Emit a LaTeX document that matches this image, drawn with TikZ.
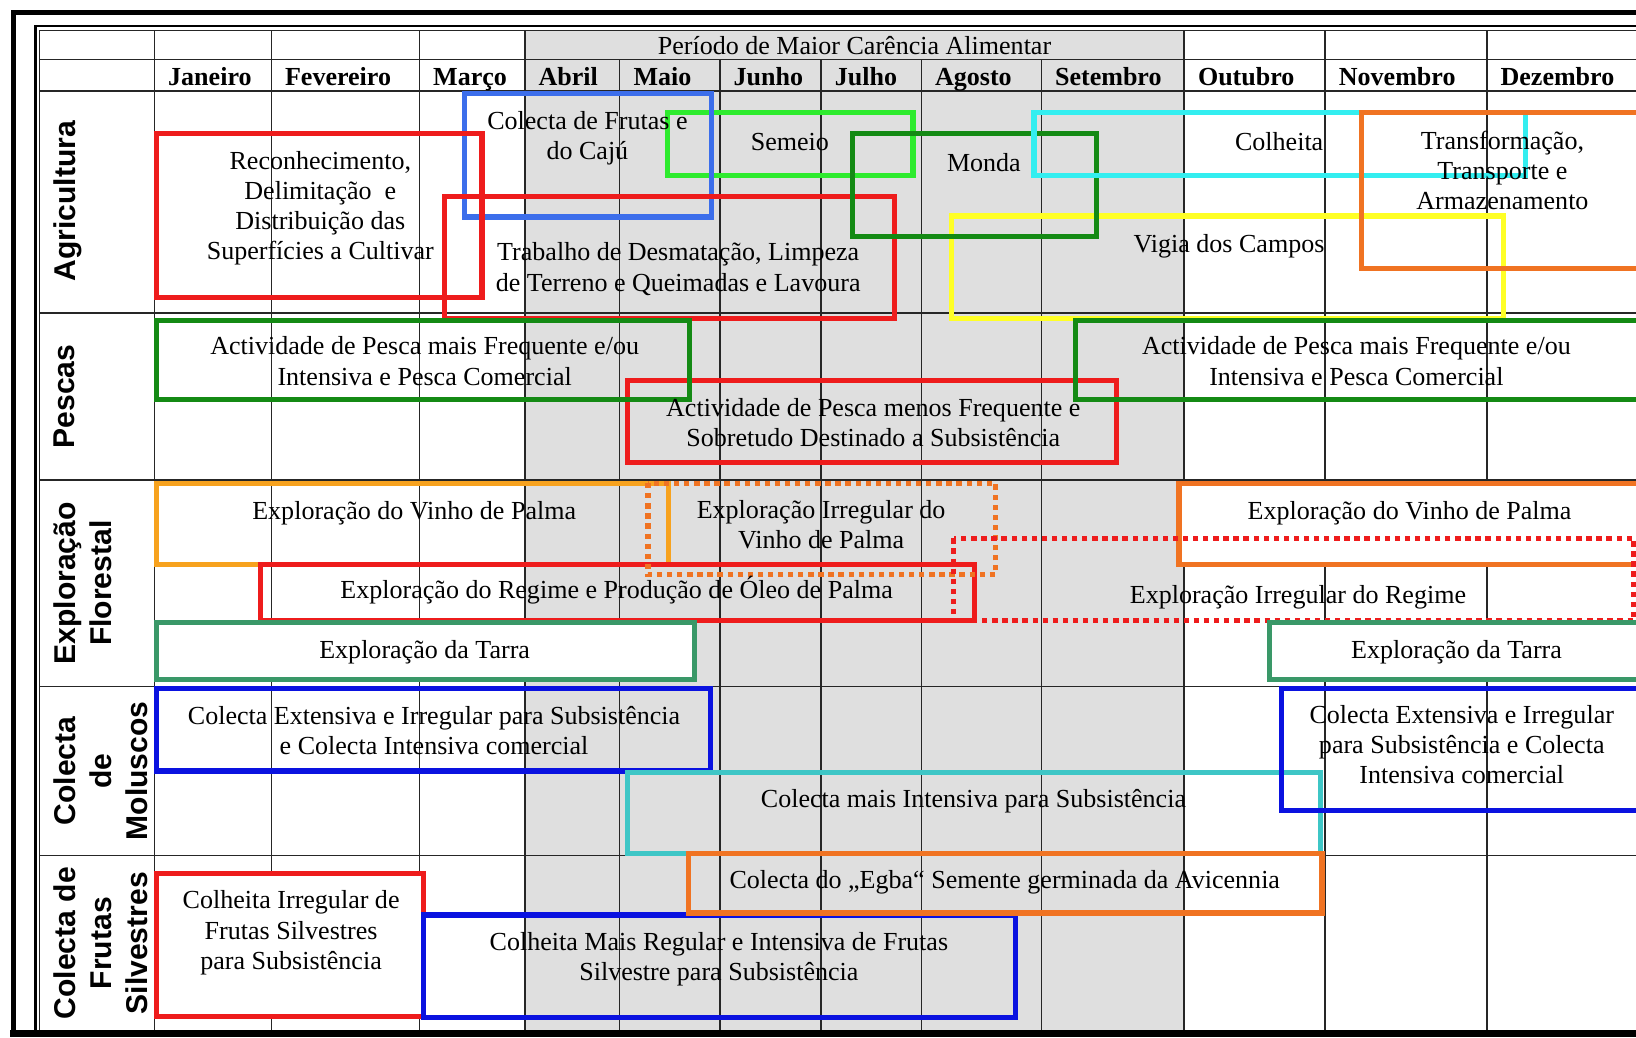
\documentclass[tikz,border=0pt]{standalone}
\usepackage{fontspec}
\setmainfont{Liberation Serif}
\setsansfont{Liberation Sans}

\definecolor{actred}{HTML}{EE1C1C}
\definecolor{cajublue}{HTML}{3C6EEB}
\definecolor{lime}{HTML}{2EEB2E}
\definecolor{dkgreen}{HTML}{148A14}
\definecolor{aqua}{HTML}{33EEF0}
\definecolor{actorange}{HTML}{F07322}
\definecolor{actyellow}{HTML}{FFFF26}
\definecolor{amber}{HTML}{F7A21E}
\definecolor{tarra}{HTML}{3A9868}
\definecolor{molblue}{HTML}{0A12E0}
\definecolor{turq}{HTML}{3EC6C6}
\definecolor{dryseason}{HTML}{DFDFDF}

\begin{document}
\begin{tikzpicture}[x=0.1mm,y=-0.1mm,
    grid/.style={line width=0.4pt,black!85},
    act/.style={line width=1.4pt},
    dots/.style={line width=1.4pt,dash pattern=on 1.45pt off 1.3pt},
    txt/.style={anchor=base,align=center,inner sep=0pt,yshift=-0.2mm,font=\fontsize{7.1}{8.25}\selectfont},
    month/.style={anchor=base west,inner sep=0pt,yshift=-0.2mm,font=\fontsize{7.1}{8.25}\selectfont\bfseries},
    sector/.style={rotate=90,anchor=north,align=center,inner sep=0pt,
        font=\fontsize{8.2}{9.8}\selectfont\sffamily\bfseries}]
\useasboundingbox (0,0) rectangle (1568,994);
\clip (0,0) rectangle (1568,994);

% table
\fill[dryseason] (503,29) rectangle (1135,988);
\foreach \y in {57,87,300,460,658,820}
    \draw[grid] (38,\y) -- (1568,\y);
\foreach \x in {148,260,402,503,1135,1270,1425}
    \draw[grid] (\x,29) -- (\x,988);
\foreach \x in {594,690,787,883,998}
    \draw[grid] (\x,57) -- (\x,988);
\draw[line width=0.6pt] (34,988) -- (34,25) -- (1568,25);
\draw[grid] (38,988) -- (38,29) -- (1568,29);
\draw[line width=1.15pt] (13,994) -- (13,12) -- (1568,12);
\fill (10,987) rectangle (1568,994);

\node (periodo) [txt] at (819,50) {Período de Maior Carência Alimentar};
\foreach \m/\x in {Janeiro/148,Fevereiro/260,Março/402,Abril/503,Maio/594,Junho/690,
        Julho/787,Agosto/883,Setembro/998,Outubro/1135,Novembro/1270,Dezembro/1425}
    \node (m\x) [month] at (\x+12.5,80) {\m};

\node (agri) [sector] at (51,193) {Agricultura};
\node (pesc) [sector] at (51,380) {Pescas};
\node (expl) [sector] at (51,559) {Exploração\\Florestal};
\node (molu) [sector] at (51,739) {Colecta\\de\\Moluscos};
\node (frut) [sector] at (51,904) {Colecta de\\Frutas\\Silvestres};

% agricultura
\draw[act,lime] (640,108) rectangle (875,168);
\draw[act,cajublue] (445,90) rectangle (682,208);
\draw[act,actred] (150,128) rectangle (462,285);
\draw[act,actred] (426,188) rectangle (857,305);
\draw[act,actyellow] (912,207) rectangle (1441,305);
\draw[act,dkgreen] (817,128) rectangle (1051,227);
\draw[act,aqua] (991,108) rectangle (1462,168);
\draw[act,actorange] (1305,108) rectangle (1600,257);

% pescas
\draw[act,actred] (601,365) rectangle (1070,443);
\draw[act,dkgreen] (150,307) rectangle (661,383);
\draw[act,dkgreen] (1031,307) rectangle (1600,383);

% exploracao florestal
\draw[act,amber] (150,463) rectangle (641,541);
\draw[act,actred] (250,541) rectangle (934,595);
\draw[dots,actorange] (621,463) rectangle (954,551);
\draw[act,actorange,fill=white] (1130,463) rectangle (1600,541);
\draw[dots,actred] (914,516) rectangle (1566,595);
\draw[act,tarra,fill=white] (150,597) rectangle (666,651);
\draw[act,tarra,fill=white] (1217,597) rectangle (1600,651);

% moluscos
\draw[act,molblue] (150,660) rectangle (681,739);
\draw[act,turq] (601,740) rectangle (1266,818);
\draw[act,molblue] (1228,660) rectangle (1600,777);

% frutas silvestres
\draw[act,actred,fill=white] (150,837) rectangle (406,974);
\draw[act,molblue] (406,877) rectangle (973,975);
\draw[act,actorange] (660,818) rectangle (1267,875);

% labels (base = last line)
\node (recon) [txt] at (307,247) {Reconhecimento,\\Delimitação\ \ e\\Distribuição das\\Superfícies a Cultivar};
\node (caju) [txt] at (563,151) {Colecta de Frutas e\\do Cajú};
\node (semeio) [txt] at (757,142) {Semeio};
\node (monda) [txt] at (943,162) {Monda};
\node (desmat) [txt] at (650,277) {Trabalho de Desmatação, Limpeza\\de Terreno e Queimadas e Lavoura};
\node (colh) [txt] at (1226,142) {Colheita};
\node (transf) [txt] at (1440,199) {Transformação,\\Transporte e\\Armazenamento};
\node (vigia) [txt] at (1178,240) {Vigia dos Campos};

\node (pescaA) [txt] at (407,367) {Actividade de Pesca mais Frequente e/ou\\Intensiva e Pesca Comercial};
\node (pescaB) [txt] at (837,426) {Actividade de Pesca menos Frequente e\\Sobretudo Destinado a Subsistência};
\node (pescaC) [txt] at (1300,367) {Actividade de Pesca mais Frequente e/ou\\Intensiva e Pesca Comercial};

\node (vinhoA) [txt] at (397,496) {Exploração do Vinho de Palma};
\node (vinhoB) [txt] at (787,524) {Exploração Irregular do\\Vinho de Palma};
\node (vinhoC) [txt] at (1351,496) {Exploração do Vinho de Palma};
\node (regA) [txt] at (591,572) {Exploração do Regime e Produção de Óleo de Palma};
\node (regB) [txt] at (1244,576) {Exploração Irregular do Regime};
\node (tarraA) [txt] at (407,629) {Exploração da Tarra};
\node (tarraB) [txt] at (1396,629) {Exploração da Tarra};

\node (molA) [txt] at (416,721) {Colecta Extensiva e Irregular para Subsistência\\e Colecta Intensiva comercial};
\node (molB) [txt] at (933,772) {Colecta mais Intensiva para Subsistência};
\node (molC) [txt] at (1401,749) {Colecta Extensiva e Irregular\\para Subsistência e Colecta\\Intensiva comercial};

\node (frutA) [txt] at (279,927) {Colheita Irregular de\\Frutas Silvestres\\para Subsistência};
\node (egba) [txt] at (963,850) {Colecta do „Egba“ Semente germinada da Avicennia};
\node (frutB) [txt] at (689,938) {Colheita Mais Regular e Intensiva de Frutas\\Silvestre para Subsistência};
\end{tikzpicture}
\end{document}
